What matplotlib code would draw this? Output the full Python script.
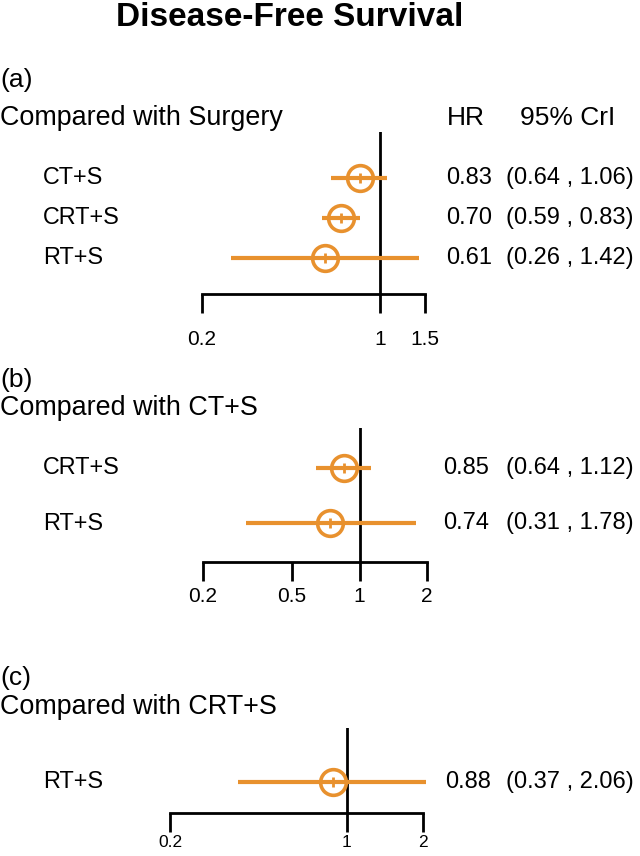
import matplotlib
matplotlib.use("Agg")
import matplotlib.pyplot as plt
import numpy as np

plt.rcParams['font.family'] = ['Liberation Sans', 'DejaVu Sans']

# ---------------- data ----------------
title = "Disease-Free Survival"

a_tag = "(a)"
a_header = "Compared with Surgery"
a_labels = ["CT+S", "CRT+S", "RT+S"]
a_hr = [0.83, 0.70, 0.61]
a_lo = [0.64, 0.59, 0.26]
a_hi = [1.06, 0.83, 1.42]
a_ticks = [0.2, 1, 1.5]

b_tag = "(b)"
b_header = "Compared with CT+S"
b_labels = ["CRT+S", "RT+S"]
b_hr = [0.85, 0.74]
b_lo = [0.64, 0.31]
b_hi = [1.12, 1.78]
b_ticks = [0.2, 0.5, 1, 2]

c_tag = "(c)"
c_header = "Compared with CRT+S"
c_labels = ["RT+S"]
c_hr = [0.88]
c_lo = [0.37]
c_hi = [2.06]
c_ticks = [0.2, 1, 2]

col_hr = "HR"
col_ci = "95% CrI"

# ---------------- style / layout ----------------
W, H = 640, 856
DPI = 100
ORANGE = "#E8912E"

fig = plt.figure(figsize=(W / DPI, H / DPI), dpi=DPI)


def fx(px):
    return px / W


def fy(py):
    return 1 - py / H


def px2pt(p):
    return p * 72.0 / DPI


fig.text(fx(290), fy(18), title, ha="center", va="center",
         fontsize=24, fontweight="bold")

panels = [
    dict(tag=a_tag, header=a_header, labels=a_labels, hr=a_hr, lo=a_lo, hi=a_hi,
         ticks=a_ticks, x0=202, x1=425, axis_y=294, top_y=132, row0=178, sp=40,
         tag_y=80, header_y=118, tick_fs=15, tick_pad=12, val_x=446, show_cols=True),
    dict(tag=b_tag, header=b_header, labels=b_labels, hr=b_hr, lo=b_lo, hi=b_hi,
         ticks=b_ticks, x0=203, x1=427, axis_y=562, top_y=428, row0=468, sp=55,
         tag_y=380, header_y=408, tick_fs=15, tick_pad=4, val_x=443, show_cols=False),
    dict(tag=c_tag, header=c_header, labels=c_labels, hr=c_hr, lo=c_lo, hi=c_hi,
         ticks=c_ticks, x0=170, x1=423, axis_y=813, top_y=728, row0=782, sp=55,
         tag_y=678, header_y=707, tick_fs=12.5, tick_pad=2, val_x=445, show_cols=False),
]

for p in panels:
    ax = fig.add_axes([fx(p["x0"]), fy(p["axis_y"]),
                       fx(p["x1"] - p["x0"]), (p["axis_y"] - p["top_y"]) / H])
    ax.set_xscale("log")
    ax.set_xlim(p["ticks"][0], p["ticks"][-1])
    ybot = (p["axis_y"] - p["row0"]) / p["sp"]
    ytop = (p["top_y"] - p["row0"]) / p["sp"]
    ax.set_ylim(ybot, ytop)
    ax.patch.set_visible(False)
    for s in ["top", "right", "left"]:
        ax.spines[s].set_visible(False)
    ax.spines["bottom"].set_linewidth(2)
    ax.set_yticks([])
    ax.set_xticks(p["ticks"])
    ax.set_xticklabels([f"{t:g}" for t in p["ticks"]])
    ax.xaxis.set_minor_locator(matplotlib.ticker.NullLocator())
    ax.tick_params(axis="x", direction="out", length=px2pt(19), width=2,
                   labelsize=p["tick_fs"], pad=p["tick_pad"])

    ax.axvline(1, color="black", lw=2, zorder=1)

    rows = np.arange(len(p["labels"]))
    ax.hlines(rows, p["lo"], p["hi"], color=ORANGE, lw=3, clip_on=False, zorder=2)
    ax.plot(p["hr"], rows, "o", mfc="none", mec=ORANGE, ms=18.5, mew=2.6,
            clip_on=False, zorder=3)
    ax.plot(p["hr"], rows, "|", color=ORANGE, ms=6.5, mew=2, clip_on=False, zorder=3)

    fig.text(fx(0), fy(p["tag_y"]), p["tag"], ha="left", va="center", fontsize=19)
    fig.text(fx(0), fy(p["header_y"]), p["header"], ha="left", va="center", fontsize=19.4)
    if p["show_cols"]:
        fig.text(fx(447), fy(p["header_y"]), col_hr, ha="left", va="center", fontsize=19)
        fig.text(fx(520), fy(p["header_y"]), col_ci, ha="left", va="center", fontsize=19)

    for k, lab in enumerate(p["labels"]):
        ry = p["row0"] + k * p["sp"]
        fig.text(fx(43), fy(ry), lab, ha="left", va="center", fontsize=16.8)
        fig.text(fx(p["val_x"]), fy(ry), f"{p['hr'][k]:.2f}", ha="left", va="center",
                 fontsize=17)
        fig.text(fx(506), fy(ry), f"({p['lo'][k]:.2f} , {p['hi'][k]:.2f})",
                 ha="left", va="center", fontsize=17)

fig.savefig("out.png", dpi=DPI)
